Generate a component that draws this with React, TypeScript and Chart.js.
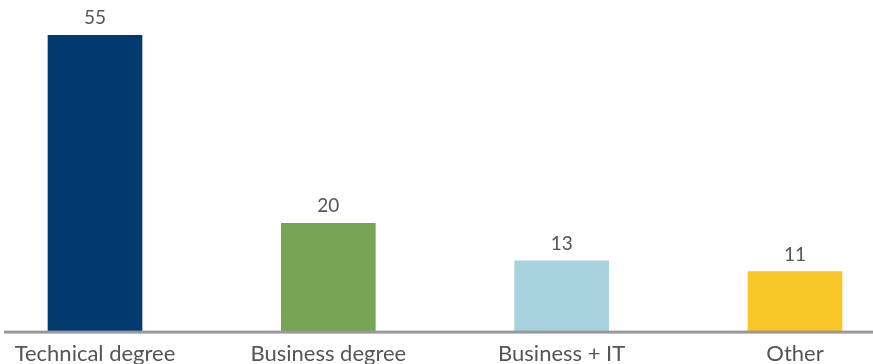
import React, { useEffect, useRef } from "react";
import { Chart, registerables } from "chart.js";

Chart.register(...registerables);

const categories = ["Technical degree", "Business degree", "Business + IT", "Other"];
const values = [55, 20, 13, 11];
const barColors = ["#003a6f", "#77a554", "#a7d1dc", "#f8c627"];

const FONT = "Lato, 'Open Sans', sans-serif";

const valueLabels = {
  id: "valueLabels",
  afterDatasetsDraw(chart: any) {
    const ctx = chart.ctx;
    const meta = chart.getDatasetMeta(0);
    ctx.save();
    ctx.font = `19px ${FONT}`;
    ctx.fillStyle = "#555555";
    ctx.textAlign = "center";
    ctx.textBaseline = "alphabetic";
    meta.data.forEach((bar: any, i: number) => {
      ctx.fillText(String(values[i]), bar.x, bar.y - 11);
    });
    ctx.restore();
  },
};

const baseLine = {
  id: "baseLine",
  afterDatasetsDraw(chart: any) {
    const ctx = chart.ctx;
    const y = chart.scales.y.getPixelForValue(0);
    ctx.save();
    ctx.fillStyle = "#999999";
    ctx.fillRect(4, y, chart.width - 4, 3);
    ctx.restore();
  },
};

export default function App() {
  const ref = useRef<HTMLCanvasElement>(null);
  useEffect(() => {
    const chart = new Chart(ref.current!, {
      type: "bar",
      data: {
        labels: categories,
        datasets: [
          {
            data: values,
            backgroundColor: barColors,
            barThickness: 94,
            borderWidth: 0,
            clip: false,
          } as any,
        ],
      },
      options: {
        animation: false,
        responsive: false,
        maintainAspectRatio: false,
        layout: { padding: { left: 95, right: 78, top: 0, bottom: -13 } },
        plugins: { legend: { display: false }, tooltip: { enabled: false } },
        scales: {
          x: {
            offset: false,
            grid: { display: false, drawTicks: false },
            border: { display: false },
            ticks: {
              font: { family: FONT, size: 22 },
              color: "#555555",
              padding: 10,
              maxRotation: 0,
              autoSkip: false,
            },
          },
          y: {
            display: false,
            min: 0,
            max: 61.6,
          },
        },
      },
      plugins: [baseLine, valueLabels],
    });
    return () => chart.destroy();
  }, []);
  return (
    <div style={{ position: "fixed", left: 0, top: 0, width: 873, height: 364, background: "#fff" }}>
      <canvas ref={ref} width={873} height={364} style={{ width: 873, height: 364, display: "block" }} />
    </div>
  );
}
